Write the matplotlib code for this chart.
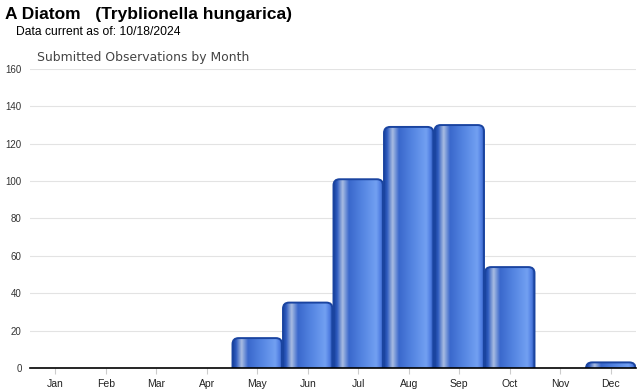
import numpy as np
import matplotlib
matplotlib.use("Agg")
import matplotlib.pyplot as plt
from matplotlib.patches import FancyBboxPatch
from matplotlib.colors import LinearSegmentedColormap

months = ["Jan", "Feb", "Mar", "Apr", "May", "Jun", "Jul", "Aug", "Sep", "Oct", "Nov", "Dec"]
counts = [0, 0, 0, 0, 16, 35, 101, 129, 130, 54, 0, 3]
yticks = [0, 20, 40, 60, 80, 100, 120, 140, 160]

plt.rcParams['font.family'] = ['Liberation Sans', 'DejaVu Sans']

fig = plt.figure(figsize=(6.4, 3.9), dpi=100)
W, H = 640, 390
ax = fig.add_axes([30 / W, 22 / H, (636 - 30) / W, (368 - 69) / H])
ax.set_xlim(-0.5, 11.5)
ax.set_ylim(0, 160)

# gradient across bar width
stops = [(0.0, "#1a44a0"), (0.06, "#2f5cc0"), (0.17, "#a9bde2"), (0.30, "#3a68cc"),
         (0.55, "#5283e0"), (0.85, "#72a0f2"), (0.94, "#4d7be0"), (1.0, "#1a44a0")]
cmap = LinearSegmentedColormap.from_list("bar", stops)
grad = np.linspace(0, 1, 200).reshape(1, -1)

bw = 0.98
px_x = (636 - 30) / 12.0
px_y = (368 - 69) / 160.0
aspect = px_x / px_y
for i, v in enumerate(counts):
    if v <= 0:
        continue
    x0 = i - bw / 2
    patch = FancyBboxPatch((x0, -10), bw, v + 10,
                           boxstyle="round,pad=0,rounding_size=0.12",
                           mutation_aspect=aspect,
                           facecolor="none", edgecolor="#1a44a0", linewidth=1.4, zorder=4)
    ax.add_patch(patch)
    im = ax.imshow(grad, cmap=cmap, extent=(x0, x0 + bw, -10, v), aspect='auto',
                   interpolation='bilinear', zorder=3)
    im.set_clip_path(patch)
ax.set_xlim(-0.5, 11.5)
ax.set_ylim(0, 160)

ax.set_yticks(yticks)
ax.set_yticklabels([str(t) for t in yticks], fontsize=7, color="#333333")
ax.tick_params(axis='y', length=0, pad=6)
ax.set_xticks(range(12))
ax.set_xticklabels(months, fontsize=7.5, color="#222222")
ax.tick_params(axis='x', length=4, color="#cccccc", pad=4)
ax.grid(axis='y', color="#e3e3e3", linewidth=0.8, zorder=0)
ax.set_axisbelow(True)
for s in ["top", "right", "left"]:
    ax.spines[s].set_visible(False)
ax.spines["bottom"].set_color("black")
ax.spines["bottom"].set_linewidth(1.2)
ax.spines["bottom"].set_zorder(5)

fig.text(5 / W, 1 - 15 / H, "A Diatom   (Tryblionella hungarica)", fontsize=12.5,
         fontweight='bold', va='center', ha='left', color="black")
fig.text(16 / W, 1 - 32 / H, "Data current as of: 10/18/2024", fontsize=8.7,
         va='center', ha='left', color="black")
fig.text(37 / W, 1 - 57 / H, "Submitted Observations by Month", fontsize=8.9,
         va='center', ha='left', color="#444444", family=['DejaVu Sans'])

fig.savefig("out.png", dpi=100)
